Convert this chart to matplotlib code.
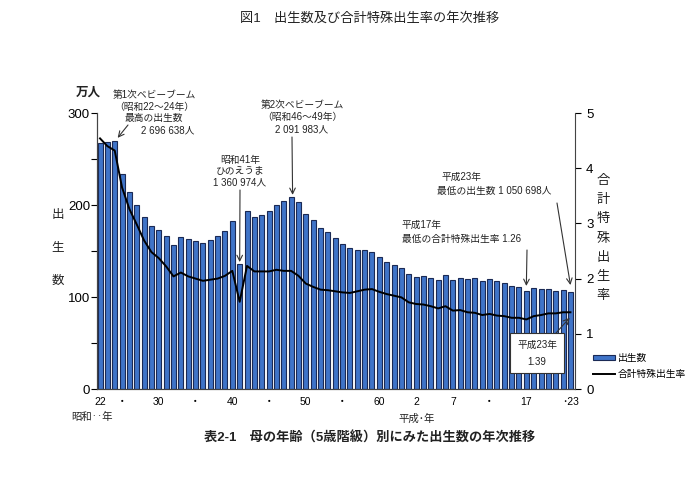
import matplotlib
matplotlib.use("Agg")
import matplotlib.pyplot as plt
from matplotlib.patches import Patch
from matplotlib.lines import Line2D

plt.rcParams['font.family'] = ['Liberation Sans', 'Noto Sans CJK JP', 'DejaVu Sans']

# 昭和22年(1947) - 平成23年(2011)
years = list(range(1947, 2012))
births = [267.9, 268.2, 269.7, 233.8, 213.8, 200.5, 186.8, 177.0, 173.1, 166.5,
          156.7, 165.3, 162.6, 160.6, 158.9, 161.9, 166.0, 171.7, 182.4, 136.1,
          193.6, 187.2, 188.9, 193.4, 200.1, 203.9, 209.2, 203.0, 190.1, 183.3,
          175.5, 170.9, 164.3, 157.7, 152.9, 151.5, 150.9, 149.0, 143.2, 138.3,
          134.7, 131.4, 124.7, 122.2, 122.3, 120.9, 118.8, 123.8, 118.7, 120.7,
          119.2, 120.3, 117.8, 119.1, 117.1, 115.4, 112.4, 111.1, 106.3, 109.3,
          109.0, 109.1, 107.0, 107.1, 105.1]
tfr = [4.54, 4.40, 4.32, 3.65, 3.26, 2.98, 2.69, 2.48, 2.37, 2.22,
       2.04, 2.11, 2.04, 2.00, 1.96, 1.98, 2.00, 2.05, 2.14, 1.58,
       2.23, 2.13, 2.13, 2.13, 2.16, 2.14, 2.14, 2.05, 1.91, 1.85,
       1.80, 1.79, 1.77, 1.75, 1.74, 1.77, 1.80, 1.81, 1.76, 1.72,
       1.69, 1.66, 1.57, 1.54, 1.53, 1.50, 1.46, 1.50, 1.42, 1.43,
       1.39, 1.38, 1.34, 1.36, 1.33, 1.32, 1.29, 1.29, 1.26, 1.32,
       1.34, 1.37, 1.37, 1.39, 1.39]
tick_years = [1947, 1950, 1955, 1960, 1965, 1970, 1975, 1980, 1985,
              1990, 1995, 2000, 2005, 2011]
tick_labels = ['22', '・', '30', '・', '40', '・', '50', '・', '60',
               '2', '7', '・', '17', '･23']

W, H = 700, 484
fig = plt.figure(figsize=(7, 4.84), dpi=100)
ax = fig.add_axes([97 / W, 1 - 389 / H, 478 / W, 276 / H])
ax2 = ax.twinx()

x = [y - 1947 for y in years]
bar_c = '#3f74c8'
ax.bar(x, births, width=0.68, color=bar_c, edgecolor='#1b2a55', linewidth=0.8)
ax2.plot(x, tfr, color='black', lw=1.4)

ax.set_xlim(-0.41, 64.62)
ax.set_ylim(0, 300)
ax2.set_ylim(0, 5)
ax.set_yticks([0, 100, 200, 300])
ax.set_yticks([50, 150, 250], minor=True)
ax2.set_yticks([0, 1, 2, 3, 4, 5])
ax.set_xticks([t - 1947 for t in tick_years])
ax.set_xticklabels(tick_labels, fontsize=7.5)
ax.tick_params(axis='x', length=0, pad=6)
ax.tick_params(axis='y', which='both', length=4, width=0.8, labelsize=9.5, pad=1)
ax2.tick_params(axis='y', length=4, width=0.8, labelsize=9.5, pad=4)
for a in (ax, ax2):
    a.spines['top'].set_visible(False)
    a.spines['left'].set_color('#444444')
    a.spines['right'].set_color('#444444')
    a.spines['bottom'].set_color('#444444')
ax.spines['right'].set_visible(False)


def fp(px, py):
    return (px / W, 1 - py / H)


def ftext(px, py, s, **kw):
    kw.setdefault('fontsize', 7)
    kw.setdefault('ha', 'center')
    kw.setdefault('va', 'center')
    kw.setdefault('color', '#222222')
    fig.text(px / W, 1 - py / H, s, **kw)


ftext(370, 18, '図1　出生数及び合計特殊出生率の年次推移', fontsize=9.5)
ftext(370, 438, '表2-1　母の年齢（5歳階級）別にみた出生数の年次推移',
      fontsize=9.5, fontweight='bold')

ftext(88, 93, '万人', fontsize=9, fontweight='bold')
for i, ch in enumerate('出生数'):
    ftext(58, 215 + i * 33, ch, fontsize=9)
for i, ch in enumerate('合計特殊出生率'):
    ftext(603, 181 + i * 19.2, ch, fontsize=9.5)
ftext(92, 417, '昭和‥年', fontsize=7.5)
ftext(417, 419, '平成･年', fontsize=7.5)

arrow = dict(arrowstyle='->', color='#333333', lw=0.8, shrinkA=0, shrinkB=0)

ftext(154, 95, '第1次ベビーブーム')
ftext(154, 107, '（昭和22～24年）')
ftext(154, 118, '最高の出生数')
ftext(168, 130, '2 696 638人')
ax.annotate('', xy=(2.4, 273), xycoords='data',
            xytext=fp(128, 125), textcoords='figure fraction', arrowprops=arrow)

ftext(240, 160, '昭和41年')
ftext(240, 171, 'ひのえうま')
ftext(240, 182, '1 360 974人')
ax.annotate('', xy=(19, 138), xycoords='data',
            xytext=fp(240, 190), textcoords='figure fraction', arrowprops=arrow)

ftext(302, 105, '第2次ベビーブーム')
ftext(302, 117, '（昭和46～49年）')
ftext(302, 129, '2 091 983人')
ax.annotate('', xy=(26.2, 211), xycoords='data',
            xytext=fp(292, 137), textcoords='figure fraction', arrowprops=arrow)

ftext(441, 177, '平成23年', ha='left')
ftext(437, 191, '最低の出生数 1 050 698人', ha='left')
ax.annotate('', xy=(64, 113), xycoords='data',
            xytext=fp(557, 203), textcoords='figure fraction', arrowprops=arrow)

ftext(402, 225, '平成17年', ha='left')
ftext(402, 239, '最低の合計特殊出生率 1.26', ha='left')
ax.annotate('', xy=(58, 112), xycoords='data',
            xytext=fp(527, 250), textcoords='figure fraction', arrowprops=arrow)

fig.text(537 / W, 1 - 353 / H, '平成23年\n1.39', fontsize=7, ha='center',
         va='center', linespacing=1.9, color='#222222',
         bbox=dict(boxstyle='square,pad=0.7', fc='white', ec='#333333', lw=0.8))
ax2.annotate('', xy=(63.9, 1.29), xycoords='data',
             xytext=fp(556, 333), textcoords='figure fraction', arrowprops=arrow)

handles = [Patch(facecolor=bar_c, edgecolor='#1b2a55', linewidth=0.8),
           Line2D([], [], color='black', lw=1.4)]
fig.legend(handles, ['出生数', '合計特殊出生率'], loc='center left',
           bbox_to_anchor=(588 / W, 1 - 366 / H), frameon=False, fontsize=7,
           handlelength=2.3, handleheight=0.5, handletextpad=0.3,
           labelspacing=0.6, borderpad=0)

fig.savefig('out.png', dpi=100)
